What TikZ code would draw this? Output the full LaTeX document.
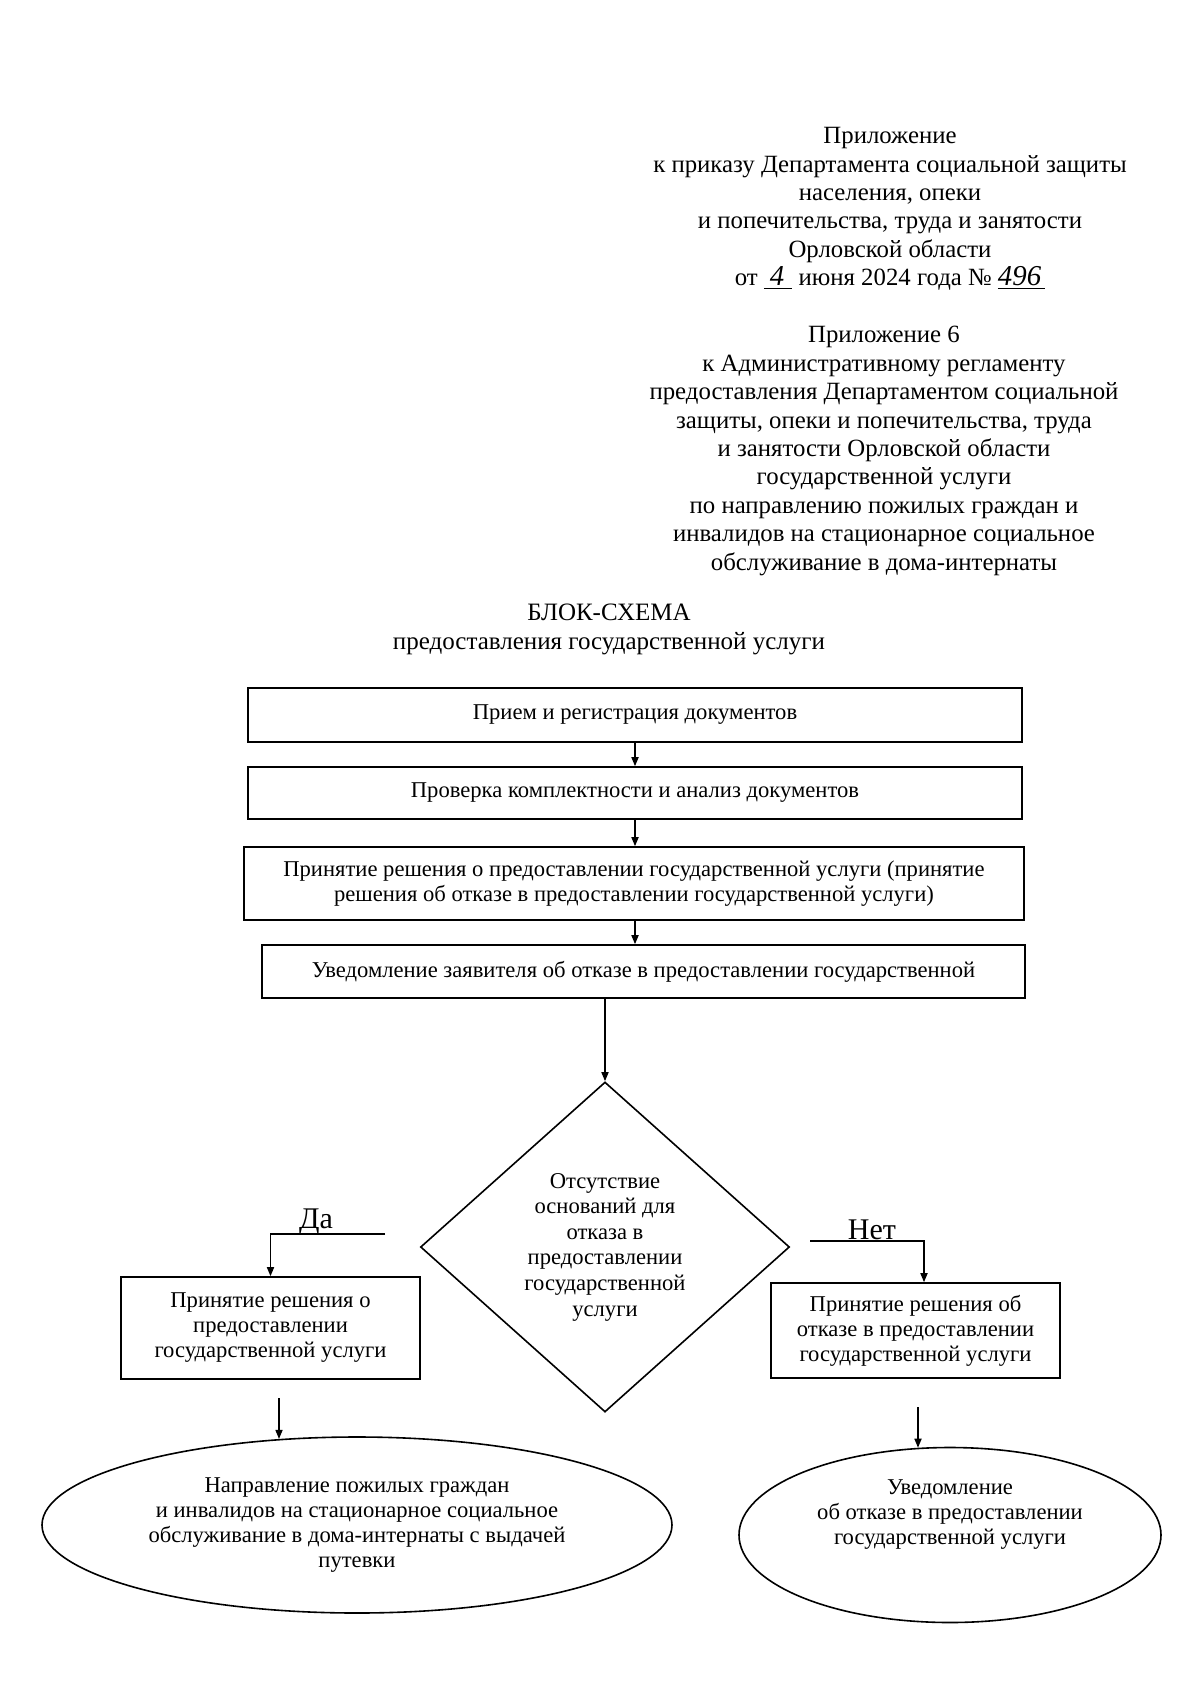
\documentclass[tikz,border=0pt]{standalone}
\usepackage{fontspec}
\setmainfont{Liberation Serif}
\usetikzlibrary{shapes.geometric, arrows.meta}
\begin{document}
\begin{tikzpicture}[x=0.5pt,y=-0.5pt,
  hdr/.style={align=center, font=\fontsize{12.4}{14.2}\selectfont, inner sep=0pt},
  ttl/.style={align=center, font=\fontsize{12.5}{14.5}\selectfont, inner sep=0pt},
  box/.style={draw, line width=0.8pt, inner sep=0pt, align=center, font=\fontsize{11.3}{12.5}\selectfont},
  ftext/.style={inner sep=0pt, align=center, font=\fontsize{11.3}{12.5}\selectfont},
  dec/.style={diamond, draw, line width=0.8pt, inner sep=0pt, align=center, font=\fontsize{11.3}{12.8}\selectfont},
  ell/.style={ellipse, draw, line width=0.8pt, inner sep=0pt},
  lbl/.style={inner sep=0pt, font=\fontsize{15}{17}\selectfont},
  arr/.style={line width=0.8pt, -{Triangle[length=4.5pt, width=3.5pt]}},
  ln/.style={line width=0.8pt}]
\fill[white] (0,0) rectangle (1200,1702);
\useasboundingbox (0,0) rectangle (1200,1702);

% header blocks
\node[hdr] (h1) at (890,209) {Приложение\\к приказу Департамента социальной защиты\\населения, опеки\\и попечительства, труда и занятости\\Орловской области\\от \underline{\hspace{3pt}\textit{\Large 4}\hspace{4pt}} июня 2024 года № \underline{\textit{\Large 496}\hspace{2pt}}};
\node[hdr] (h2) at (884,451) {Приложение 6\\к Административному регламенту\\предоставления Департаментом социальной\\защиты, опеки и попечительства, труда\\и занятости Орловской области\\государственной услуги\\по направлению пожилых граждан и\\инвалидов на стационарное социальное\\обслуживание в дома-интернаты};
\node[ttl] (title) at (609,629) {БЛОК-СХЕМА\\предоставления государственной услуги};

% process boxes
\node[box, minimum width=387pt, minimum height=27pt] (b1) at (635,715) {Прием и регистрация документов};
\node[box, minimum width=387pt, minimum height=26pt] (b2) at (635,793) {Проверка комплектности и анализ документов};
\node[box, minimum width=390pt, minimum height=36.5pt] (b3) at (634,883.5) {Принятие решения о предоставлении государственной услуги (принятие\\решения об отказе в предоставлении государственной услуги)};
\node[box, minimum width=381.5pt, minimum height=26.5pt] (b4) at (643.5,971.5) {Уведомление заявителя об отказе в предоставлении государственной};

% decision
\node[dec, minimum width=184.5pt, minimum height=165pt] (dia) at (605,1247) {Отсутствие\\оснований для\\отказа в\\предоставлении\\государственной\\услуги};

% outcome boxes
\node[box, minimum width=149.5pt, minimum height=51pt] (lbox) at (270.5,1328) {Принятие решения о\\предоставлении\\государственной услуги};
\node[box, minimum width=144.5pt, minimum height=47.5pt] (rbox) at (915.5,1330.5) {Принятие решения об\\отказе в предоставлении\\государственной услуги};

% final ellipses
\node[ell, minimum width=315pt, minimum height=88pt] (lell) at (357,1525) {};
\node[ftext] (lellt) at (lell.center) {Направление пожилых граждан\\и инвалидов на стационарное социальное\\обслуживание в дома-интернаты с выдачей\\путевки};
\node[ell, minimum width=211pt, minimum height=87.5pt] (rell) at (950,1535) {};
\node[ftext] (rellt) at ([yshift=10pt]rell.center) {Уведомление\\об отказе в предоставлении\\государственной услуги};

% labels
\node[lbl] (da) at (316,1222) {Да};
\node[lbl] (net) at (872,1230) {Нет};

% connectors
\draw[arr] (b1.south) -- (b2.north);
\draw[arr] (b2.south) -- (b2.south |- b3.north);
\draw[arr] (b2.south |- b3.south) -- (b2.south |- b4.north);
\draw[arr] (b4.south -| dia.north) -- (dia.north);

\coordinate (daStart) at (385,1234);
\draw[arr] (daStart) -- (lbox.north |- daStart) -- (lbox.north);
\coordinate (netStart) at (810,1241);
\coordinate (netDrop) at (924,1241);
\draw[arr] (netStart) -- (netDrop) -- (netDrop |- rbox.north);

\coordinate (la) at (279,1398);
\draw[arr] (la) -- (la |- lell.132);
\coordinate (ra) at (918,1407);
\draw[arr] (ra) -- (ra |- rell.110);
\end{tikzpicture}
\end{document}
